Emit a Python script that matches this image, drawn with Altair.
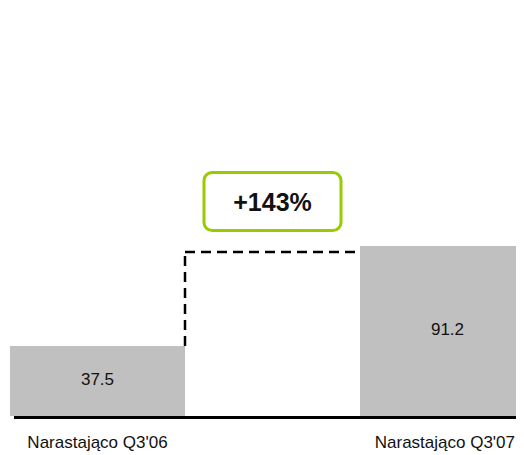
import altair as alt
import pandas as pd

categories = ["Narastająco Q3'06", "Narastająco Q3'07"]
values = [37.5, 91.2]
x_start = [0, 2]
x_end = [1, 3]
label_pos = [0.5, 2.485]
bridge_level = 88.0
growth_label = "+143%"

bars = pd.DataFrame({"cat": categories, "value": values, "x0": x_start, "x1": x_end,
                     "lx": label_pos})
bars["xm"] = (bars["x0"] + bars["x1"]) / 2
bars["half"] = bars["value"] / 2
bars["label"] = [f"{v:.1f}" for v in values]

W = 506
X = alt.Scale(domain=[0, W / 175], nice=False, zero=False)
Y = alt.Scale(domain=[0, 200], nice=False)
FONT = "Liberation Sans"

base = alt.Chart(bars)

bar_layer = base.mark_rect(color="#C0C0C0", clip=True).encode(
    x=alt.X("x0:Q", scale=X, axis=None),
    x2="x1:Q",
    y=alt.Y("value:Q", scale=Y, axis=None),
    y2=alt.datum(0),
)

val_text = base.mark_text(font=FONT, fontSize=17, color="#111", dy=-1).encode(
    x=alt.X("xm:Q", scale=X), y=alt.Y("half:Q", scale=Y), text="label:N"
)

cat_text = base.mark_text(font=FONT, fontSize=17, color="#111", dy=27).encode(
    x=alt.X("lx:Q", scale=X), y=alt.datum(0), text="cat:N"
)

baseline = alt.Chart(pd.DataFrame({"a": [0]})).mark_rule(
    color="#000", strokeWidth=3
).encode(
    x=alt.value(4), x2=alt.value(W), y=alt.Y("a:Q", scale=Y), yOffset=alt.value(1.5)
)

# dashed connector
conn = pd.DataFrame({
    "xa": [x_end[0], x_end[0]],
    "xb": [x_end[0], x_start[1]],
    "ya": [values[0], bridge_level],
    "yb": [bridge_level, bridge_level],
})
dash = alt.Chart(conn).mark_rule(
    color="#000", strokeWidth=2.5, strokeDash=[10, 6]
).encode(
    x=alt.X("xa:Q", scale=X), x2="xb:Q",
    y=alt.Y("ya:Q", scale=Y), y2="yb:Q",
)

box_df = pd.DataFrame({"x": [1.5], "y": [115.0], "t": [growth_label]})
box = alt.Chart(box_df).mark_rect(
    fill="white", stroke="#99CC00", strokeWidth=3, cornerRadius=8,
    width=137, height=58,
).encode(x=alt.X("x:Q", scale=X), y=alt.Y("y:Q", scale=Y))

box_text = alt.Chart(box_df).mark_text(
    font=FONT, fontSize=25, fontWeight="bold", color="#111", dy=1
).encode(x=alt.X("x:Q", scale=X), y=alt.Y("y:Q", scale=Y), text="t:N")

chart = alt.layer(bar_layer, baseline, dash, val_text, cat_text, box, box_text).properties(
    width=W, height=373,
    autosize=alt.AutoSizeParams(type="none"),
    padding={"left": 2, "top": 35, "right": 0, "bottom": 39},
).configure_view(stroke=None)

chart.save("out.html", embed_options={"renderer": "svg", "actions": False})
